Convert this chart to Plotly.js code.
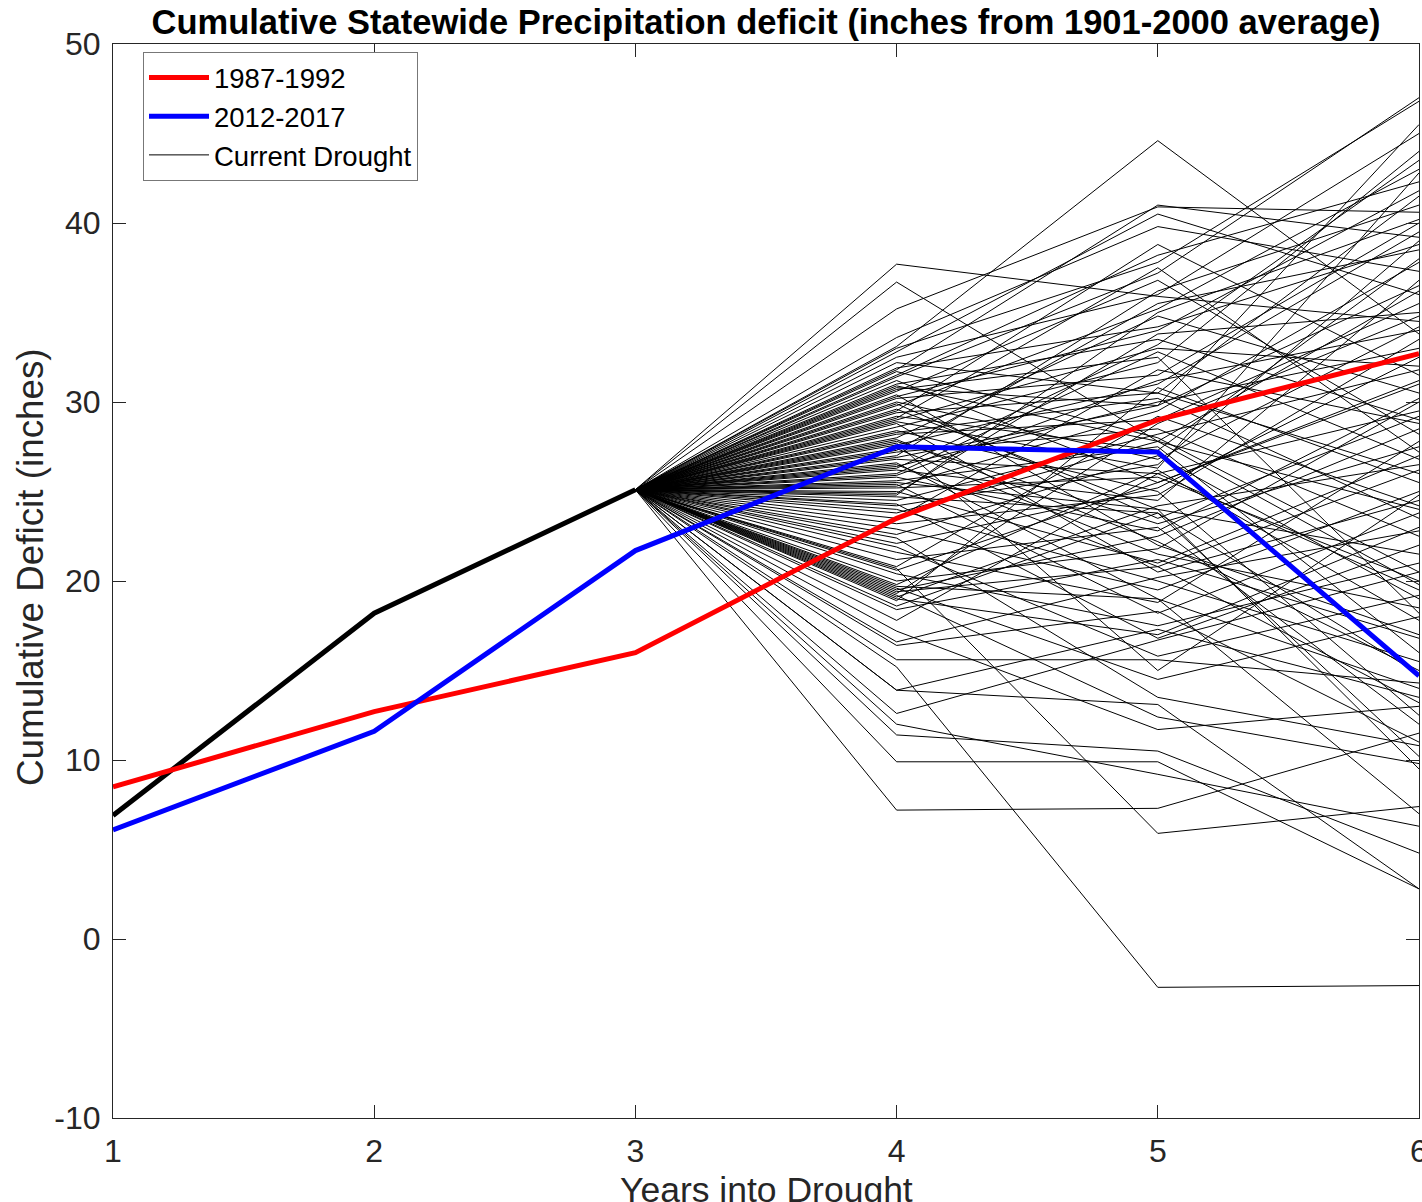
<!DOCTYPE html>
<html>
<head>
<meta charset="utf-8">
<script src="https://cdn.plot.ly/plotly-3.0.1.min.js"></script>
<style>html,body{margin:0;padding:0;background:#fff;}#chart{width:1422px;height:1202px;}</style>
</head>
<body>
<div id="chart"></div>
<script>
// Years into drought
const years = [1, 2, 3, 4, 5, 6];
const yearsObserved = [1, 2, 3];
const yearsScenario = [3, 4, 5, 6];

// Y tick labels
const yTickVals = [-10, 0, 10, 20, 30, 40, 50];
const yTickText = ['-10', '0', '10', '20', '30', '40', '50'];

// Historical droughts (cumulative deficit, inches)
const drought1987 = [8.5, 12.7, 16.0, 23.5, 29.0, 32.7];
const drought2012 = [6.1, 11.6, 21.7, 27.5, 27.2, 14.7];

// Current drought, observed part
const currentObserved = [6.9, 18.2, 25.1];

// Current drought scenarios: value at year 4, year 5, year 6
const scenY4 = [37.7,36.7,35.2,33.1,33.6,33.0,32.5,32.2,31.9,31.7,31.5,31.2,31.0,30.8,30.6,30.4,30.2,30.0,29.8,29.6,
  29.4,29.2,29.0,28.8,28.6,28.4,28.2,28.0,27.8,27.6,27.4,27.2,27.0,26.8,26.6,26.4,26.2,26.0,25.8,25.6,
  25.4,25.3,25.2,25.0,24.9,24.7,24.5,24.3,24.2,24.0,23.5,23.2,22.9,22.6,22.4,22.1,21.6,21.2,20.8,20.4,
  20.0,19.8,19.6,19.5,19.4,19.3,19.2,19.1,19.0,18.9,18.4,17.8,17.2,16.6,16.4,15.6,15.2,13.9,13.9,12.6,
  11.4,9.9,7.2,12.0,20.7,32.8,31.4,30.9,30.3,29.9,29.5,28.9,28.3,27.9,27.3,26.9,26.5,25.9,25.5,24.8,
  23.8,21.9,20.6,19.7,18.6,31.8,30.7,29.1,27.7,26.3];
const scenY5 = [35.9,27.8,40.9,44.6,39.8,37.8,36.0,30.5,34.2,28.0,38.2,25.5,33.5,29.8,36.8,22.0,31.5,26.8,35.2,24.0,
  30.5,27.3,33.0,20.5,32.2,25.0,29.0,34.8,23.2,31.0,21.5,28.5,36.2,26.0,19.0,30.0,24.5,32.8,22.8,27.5,
  18.2,29.5,25.8,21.0,33.8,23.8,28.2,16.8,26.5,20.0,31.8,24.8,19.5,27.0,13.5,25.2,18.8,23.0,29.2,17.5,
  21.8,26.2,14.5,22.5,20.8,28.8,12.4,24.2,17.0,30.8,21.2,26.0,11.7,20.2,18.3,15.6,-2.7,13.1,17.3,16.7,
  10.5,9.9,7.3,9.2,5.9,40.5,37.2,27.8,34.0,23.5,38.8,26.3,30.2,22.2,35.5,29.8,20.8,31.2,24.0,35.0,
  27.8,15.8,25.5,19.0,23.8,41.0,32.5,37.5,15.0,33.2];
const scenY6 = [34.5,24.0,40.6,33.8,37.3,46.8,45.0,41.5,38.8,20.5,42.3,31.0,29.0,36.5,28.2,17.0,40.0,34.2,43.0,21.5,
  26.0,38.0,32.0,24.5,44.0,12.5,35.5,30.5,27.5,39.5,18.5,22.5,41.0,29.5,14.0,33.0,36.8,26.8,30.2,16.0,
  23.8,37.8,20.0,27.0,35.0,10.2,31.8,22.0,39.0,15.5,28.8,33.5,25.0,19.0,10.8,32.5,27.8,12.0,24.2,21.0,
  30.0,17.8,18.0,28.5,13.2,34.8,9.8,26.5,23.0,25.5,16.8,19.5,13.0,22.8,11.0,14.3,-2.6,2.8,13.5,20.5,
  4.8,2.8,11.5,6.3,7.4,36.0,47.0,19.8,41.8,29.2,31.5,42.8,23.5,15.0,38.5,45.5,26.2,34.0,9.5,40.2,
  36.2,19.2,31.2,7.0,14.8,39.2,18.2,27.2,24.8,43.5];

const traces = [];
for (let i = 0; i < scenY4.length; i++) {
  traces.push({
    x: yearsScenario,
    y: [currentObserved[currentObserved.length - 1], scenY4[i], scenY5[i], scenY6[i]],
    type: 'scatter', mode: 'lines',
    line: {color: '#000000', width: 1},
    name: 'Current Drought',
    legendgroup: 'current', legendrank: 3,
    showlegend: i === 0,
    hoverinfo: 'skip'
  });
}
traces.push({
  x: yearsObserved, y: currentObserved, type: 'scatter', mode: 'lines',
  line: {color: '#000000', width: 5}, showlegend: false, name: 'Observed'
});
traces.push({
  x: years, y: drought1987, type: 'scatter', mode: 'lines',
  line: {color: '#ff0000', width: 5}, name: '1987-1992', legendrank: 1
});
traces.push({
  x: years, y: drought2012, type: 'scatter', mode: 'lines',
  line: {color: '#0000ff', width: 5}, name: '2012-2017', legendrank: 2
});

const fontFam = '"Liberation Sans", Arial, Helvetica, sans-serif';
const axisCommon = {
  showgrid: false, zeroline: false,
  showline: true, linecolor: '#262626', linewidth: 1,
  mirror: 'ticks', ticks: 'inside', ticklen: 13, tickwidth: 1, tickcolor: '#262626',
  ticklabeloverflow: 'allow',
  tickfont: {family: fontFam, size: 32, color: '#262626'}
};

const layout = {
  width: 1422, height: 1202,
  margin: {l: 113, r: 3, t: 44, b: 84},
  paper_bgcolor: '#ffffff', plot_bgcolor: '#ffffff',
  font: {family: fontFam, color: '#262626'},
  title: {
    text: '<b>Cumulative Statewide Precipitation deficit (inches from 1901-2000 average)</b>',
    font: {family: fontFam, size: 34.5, color: '#000000'},
    x: 0.5, xref: 'paper', y: 1 - 22 / 1202, yref: 'container', yanchor: 'middle'
  },
  xaxis: Object.assign({}, axisCommon, {
    range: [1, 6], tickvals: years, ticktext: years.map(String),
    ticklabelstandoff: 5
  }),
  yaxis: Object.assign({}, axisCommon, {
    range: [-10, 50], tickvals: yTickVals, ticktext: yTickText,
    ticklabelstandoff: 5
  }),
  annotations: [{
    text: 'Cumulative Deficit (inches)', textangle: -90,
    xref: 'paper', yref: 'paper', x: (30 - 113) / 1306, y: (1118 - 567) / 1074,
    xanchor: 'center', yanchor: 'middle', showarrow: false,
    font: {family: fontFam, size: 36.8, color: '#262626'}
  }, {
    text: 'Years into Drought',
    xref: 'paper', yref: 'paper', x: 0.5, y: (1118 - 1190) / 1074,
    xanchor: 'center', yanchor: 'middle', showarrow: false,
    font: {family: fontFam, size: 35.5, color: '#262626'}
  }],
  showlegend: true,
  legend: {
    x: (143 - 113) / 1306, y: 1 - (52 - 44) / 1074, xanchor: 'left', yanchor: 'top',
    bgcolor: '#ffffff', bordercolor: '#777777', borderwidth: 1,
    font: {family: fontFam, size: 27.5, color: '#000000'},
    itemwidth: 60, tracegroupgap: 0
  }
};

Plotly.newPlot('chart', traces, layout, {staticPlot: true, displayModeBar: false});
</script>
</body>
</html>
